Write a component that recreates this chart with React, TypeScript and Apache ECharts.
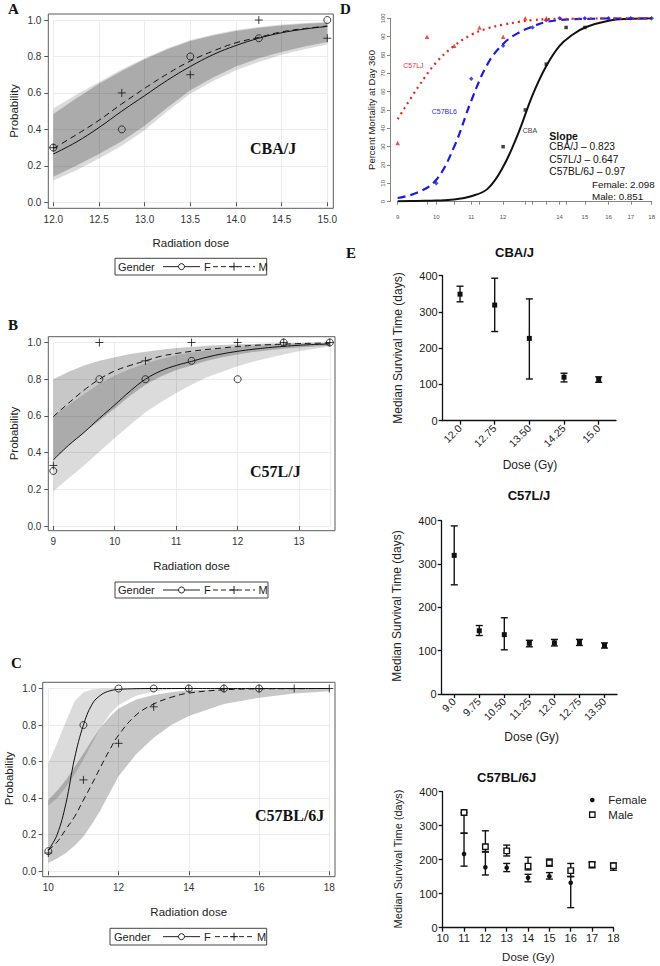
import React, { useEffect, useRef } from 'react';
import * as echarts from 'echarts';

const SANS = '"Liberation Sans", Arial, Helvetica, sans-serif';
const SERIF = '"Liberation Serif", "Times New Roman", serif';

// ---------- Panel A : CBA/J ----------
const doseA = [12, 12.75, 13.5, 14.25, 15];
const obsA_F = [0.3, 0.4, 0.8, 0.9, 1.0];
const obsA_M = [0.3, 0.6, 0.7, 1.0, 0.9];
const fitDoseA = [12, 12.25, 12.5, 12.75, 13, 13.25, 13.5, 13.75, 14, 14.25, 14.5, 14.75, 15];
const fitA_F = [0.265, 0.33, 0.41, 0.5, 0.585, 0.67, 0.745, 0.81, 0.86, 0.9, 0.93, 0.95, 0.965];
const fitA_M = [0.295, 0.37, 0.45, 0.54, 0.625, 0.705, 0.775, 0.83, 0.875, 0.905, 0.935, 0.953, 0.967];
const bandA_F_lo = [0.12, 0.175, 0.24, 0.31, 0.395, 0.5, 0.595, 0.665, 0.725, 0.77, 0.81, 0.84, 0.865];
const bandA_F_hi = [0.515, 0.59, 0.66, 0.73, 0.79, 0.845, 0.89, 0.92, 0.945, 0.962, 0.975, 0.984, 0.99];
const bandA_M_lo = [0.14, 0.2, 0.265, 0.335, 0.42, 0.52, 0.615, 0.685, 0.745, 0.79, 0.825, 0.855, 0.88];
const bandA_M_hi = [0.485, 0.57, 0.65, 0.72, 0.785, 0.84, 0.885, 0.915, 0.94, 0.957, 0.97, 0.979, 0.985];

// ---------- Panel B : C57L/J ----------
const doseB = [9, 9.75, 10.5, 11.25, 12, 12.75, 13.5];
const obsB_F = [0.3, 0.8, 0.8, 0.9, 0.8, 1.0, 1.0];
const obsB_M = [0.33, 1.0, 0.9, 1.0, 1.0, 1.0, 1.0];
const fitDoseB = [9, 9.25, 9.5, 9.75, 10, 10.25, 10.5, 10.75, 11, 11.25, 11.5, 11.75, 12, 12.25, 12.5, 12.75, 13, 13.25, 13.5];
const fitB_F = [0.36, 0.44, 0.51, 0.587, 0.66, 0.735, 0.8, 0.845, 0.875, 0.897, 0.92, 0.938, 0.952, 0.963, 0.972, 0.979, 0.985, 0.989, 0.992];
const fitB_M = [0.596, 0.67, 0.74, 0.8, 0.845, 0.875, 0.9, 0.925, 0.94, 0.952, 0.962, 0.97, 0.978, 0.984, 0.988, 0.991, 0.994, 0.996, 0.997];
const bandB_F_lo = [0.19, 0.26, 0.33, 0.405, 0.48, 0.55, 0.62, 0.675, 0.725, 0.77, 0.81, 0.84, 0.87, 0.895, 0.915, 0.935, 0.952, 0.966, 0.978];
const bandB_F_hi = [0.6, 0.66, 0.72, 0.775, 0.82, 0.855, 0.885, 0.91, 0.93, 0.945, 0.957, 0.967, 0.975, 0.981, 0.986, 0.99, 0.993, 0.995, 0.996];
const bandB_M_lo = [0.36, 0.44, 0.51, 0.575, 0.64, 0.71, 0.77, 0.815, 0.85, 0.875, 0.9, 0.92, 0.935, 0.948, 0.958, 0.966, 0.973, 0.978, 0.982];
const bandB_M_hi = [0.8, 0.84, 0.875, 0.9, 0.92, 0.937, 0.95, 0.96, 0.97, 0.976, 0.982, 0.986, 0.99, 0.992, 0.994, 0.996, 0.997, 0.998, 0.999];

// ---------- Panel C : C57BL/6J ----------
const doseC_F = [10, 11, 12, 13, 14, 15, 16];
const obsC_F = [0.11, 0.8, 1.0, 1.0, 1.0, 1.0, 1.0];
const doseC_M = [10, 11, 12, 13, 14, 15, 16, 17, 18];
const obsC_M = [0.1, 0.5, 0.7, 0.9, 1.0, 1.0, 1.0, 1.0, 1.0];
const fitDoseC = [10, 10.25, 10.5, 10.75, 11, 11.25, 11.5, 11.75, 12, 12.5, 13, 13.5, 14, 15, 16, 17, 18];
const fitC_F = [0.115, 0.2, 0.37, 0.62, 0.8, 0.915, 0.965, 0.987, 0.995, 0.999, 1, 1, 1, 1, 1, 1, 1];
const fitC_M = [0.115, 0.16, 0.23, 0.3, 0.39, 0.48, 0.575, 0.665, 0.745, 0.855, 0.915, 0.952, 0.975, 0.993, 0.998, 0.999, 1];
const bandC_F_lo = [0.36, 0.4, 0.46, 0.53, 0.61, 0.7, 0.79, 0.86, 0.91, 0.96, 0.985, 0.995, 1, 1, 1, 1, 1];
const bandC_F_hi = [0.59, 0.7, 0.82, 0.93, 0.98, 0.995, 1, 1, 1, 1, 1, 1, 1, 1, 1, 1, 1];
const bandC_M_lo = [0.045, 0.07, 0.1, 0.14, 0.19, 0.26, 0.34, 0.43, 0.52, 0.64, 0.73, 0.8, 0.85, 0.915, 0.95, 0.972, 0.985];
const bandC_M_hi = [0.39, 0.44, 0.5, 0.57, 0.645, 0.72, 0.79, 0.845, 0.89, 0.94, 0.965, 0.98, 0.99, 0.997, 0.999, 1, 1];

// ---------- Panel D : mortality at day 360 ----------
const tickDosesD = [9, 9.75, 10, 10.5, 11, 11.25, 12, 12.75, 13, 13.5, 14, 14.25, 15, 16, 17, 18];
const labelDosesD = [9, 10, 11, 12, 14, 15, 16, 17, 18];
const curveDoseD = [9, 9.5, 10, 10.5, 11, 11.5, 12, 12.5, 13, 13.5, 14, 14.5, 15, 16, 17, 18];
const fitD_C57LJ = [45, 62, 76, 85, 91, 94.5, 96.5, 98, 99, 99.5, 99.7, 99.8, 99.9, 100, 100, 100];
const fitD_C57BL6 = [2, 5, 12, 30, 55, 75, 86, 92, 95.5, 98, 99, 99.5, 99.7, 100, 100, 100];
const fitD_CBA = [0.2, 0.4, 0.6, 1.2, 3, 7, 19, 37, 58, 74, 85, 91, 95, 98.7, 99.7, 100];
const ptDoseD_C57LJ = [9, 9.75, 10.5, 11.25, 12, 12.75, 13.5];
const ptD_C57LJ = [32, 90, 85, 95, 90, 100, 100];
const ptDoseD_C57BL6 = [10, 11, 12, 13, 13.5, 14, 15, 16, 17, 18];
const ptD_C57BL6 = [10, 67, 85, 95, 99, 100, 100, 100, 100, 100];
const ptDoseD_CBA = [12, 12.75, 13.5, 14.25, 15];
const ptD_CBA = [30, 50, 75, 95, 95];

// ---------- Panel E : median survival ----------
const catsE1 = ['12.0', '12.75', '13.50', '14.25', '15.0'];
const medE1 = [349, 319, 227, 120, 114];
const loE1 = [328, 246, 115, 107, 106];
const hiE1 = [371, 393, 336, 131, 121];

const catsE2 = ['9.0', '9.75', '10.50', '11.25', '12.0', '12.75', '13.50'];
const medE2 = [320, 146, 137, 117, 118, 119, 112];
const loE2 = [252, 135, 102, 109, 111, 112, 106];
const hiE2 = [388, 158, 176, 124, 126, 126, 118];

const doseE3_F = [11, 12, 13, 14, 15, 16];
const medE3_F = [217, 178, 176, 147, 151, 132];
const loE3_F = [181, 155, 165, 135, 143, 59];
const hiE3_F = [278, 223, 189, 157, 162, 150];
const doseE3_M = [11, 12, 13, 14, 15, 16, 17, 18];
const medE3_M = [339, 238, 226, 181, 191, 168, 186, 182];
const loE3_M = [278, 223, 211, 170, 181, 151, 176, 169];
const hiE3_M = [339, 285, 243, 207, 202, 189, 193, 190];

const BAND_F = 'rgba(0,0,0,0.14)';
const BAND_M = 'rgba(0,0,0,0.22)';
const PLUS = 'path://M5 0 L5 10 M0 5 L10 5';

function bandSeries(gi: number, dose: number[], lo: number[], hi: number[], fill: string) {
  return {
    type: 'custom',
    xAxisIndex: gi,
    yAxisIndex: gi,
    silent: true,
    z: 1,
    data: dose.map((d, i) => [d, lo[i], hi[i]]),
    renderItem: (params: any, api: any) => {
      if (params.dataIndex !== 0) return null;
      const pts: number[][] = [];
      for (let i = 0; i < dose.length; i++) pts.push(api.coord([dose[i], hi[i]]));
      for (let i = dose.length - 1; i >= 0; i--) pts.push(api.coord([dose[i], lo[i]]));
      return { type: 'polygon', shape: { points: pts }, style: { fill, stroke: 'none' } };
    },
  };
}

function lineSeries(gi: number, dose: number[], vals: number[], color: string, width: number, dash: any, smooth: number, tx?: (d: number) => number) {
  const f = tx || ((d: number) => d);
  return {
    type: 'line',
    xAxisIndex: gi,
    yAxisIndex: gi,
    data: dose.map((d, i) => [f(d), vals[i]]),
    showSymbol: false,
    smooth,
    silent: true,
    z: 3,
    lineStyle: { color, width, type: dash },
  };
}

function scatterSeries(gi: number, dose: number[], vals: number[], symbol: string, size: number, itemStyle: any, tx?: (d: number) => number) {
  const f = tx || ((d: number) => d);
  return {
    type: 'scatter',
    xAxisIndex: gi,
    yAxisIndex: gi,
    data: dose.map((d, i) => [f(d), vals[i]]),
    symbol,
    symbolSize: size,
    silent: true,
    z: 4,
    itemStyle,
  };
}

function errorSeries(gi: number, xs: number[], med: number[], lo: number[], hi: number[], marker: string, size: number, cap: number) {
  return {
    type: 'custom',
    xAxisIndex: gi,
    yAxisIndex: gi,
    silent: true,
    z: 4,
    data: xs.map((x, i) => [x, med[i], lo[i], hi[i]]),
    renderItem: (params: any, api: any) => {
      const x = api.value(0);
      const c = api.coord([x, api.value(1)]);
      const a = api.coord([x, api.value(2)]);
      const b = api.coord([x, api.value(3)]);
      const st = { stroke: '#111', lineWidth: 1.4 };
      const children: any[] = [
        { type: 'line', shape: { x1: a[0], y1: a[1], x2: b[0], y2: b[1] }, style: st },
        { type: 'line', shape: { x1: a[0] - cap, y1: a[1], x2: a[0] + cap, y2: a[1] }, style: st },
        { type: 'line', shape: { x1: b[0] - cap, y1: b[1], x2: b[0] + cap, y2: b[1] }, style: st },
      ];
      if (marker === 'square') {
        children.push({ type: 'rect', shape: { x: c[0] - size / 2, y: c[1] - size / 2, width: size, height: size }, style: { fill: '#111' } });
      } else if (marker === 'openSquare') {
        children.push({ type: 'rect', shape: { x: c[0] - size / 2, y: c[1] - size / 2, width: size, height: size }, style: { fill: '#fff', stroke: '#111', lineWidth: 1.4 } });
      } else {
        children.push({ type: 'circle', shape: { cx: c[0], cy: c[1], r: size / 2 }, style: { fill: '#111' } });
      }
      return { type: 'group', children };
    },
  };
}

function probX(gi: number, min: number, max: number, interval: number, offset: number, fmt: (v: number) => string, hideMax = false) {
  return {
    type: 'value', gridIndex: gi, min, max, interval, offset,
    axisLine: { show: false },
    axisTick: { show: true, length: 4, lineStyle: { color: '#555' } },
    axisLabel: { fontSize: 10, color: '#333', margin: 6, formatter: fmt, fontFamily: SANS, showMaxLabel: !hideMax },
    splitLine: { show: true, lineStyle: { color: '#ebebeb', width: 1 } },
  };
}

function probY(gi: number, offset: number, margin: number) {
  return {
    type: 'value', gridIndex: gi, min: 0, max: 1, interval: 0.2, offset,
    axisLine: { show: false },
    axisTick: { show: true, length: 4, lineStyle: { color: '#555' } },
    axisLabel: { fontSize: 10, color: '#333', margin, formatter: (v: number) => v.toFixed(1), fontFamily: SANS },
    splitLine: { show: true, lineStyle: { color: '#ebebeb', width: 1 } },
  };
}

const eAxisLine = { show: true, lineStyle: { color: '#111', width: 1.3 } };
const eTick = { show: true, length: 4, lineStyle: { color: '#111', width: 1.3 } };

function eY(gi: number) {
  return {
    type: 'value', gridIndex: gi, min: 0, max: 400, interval: 100,
    axisLine: eAxisLine, axisTick: eTick,
    axisLabel: { fontSize: 11, color: '#1a1a1a', margin: 5, fontFamily: SANS },
    splitLine: { show: false },
  };
}

function eCatX(gi: number, cats: string[]) {
  return {
    type: 'category', gridIndex: gi, data: cats, boundaryGap: true,
    axisLine: eAxisLine,
    axisTick: { ...eTick, alignWithLabel: true },
    axisLabel: { fontSize: 10.5, color: '#1a1a1a', rotate: 45, margin: 6, fontFamily: SANS, interval: 0 },
    splitLine: { show: false },
  };
}

function txt(text: string, x: number, y: number, size: number, opts: any = {}) {
  return {
    type: 'text',
    x, y,
    rotation: opts.rotation || 0,
    z: 100,
    silent: true,
    style: {
      text,
      fill: opts.fill || '#222',
      fontSize: size,
      fontFamily: opts.family || SANS,
      fontWeight: opts.weight || 'normal',
      textAlign: opts.align || 'left',
      align: opts.align || 'left',
      textVerticalAlign: 'middle',
      verticalAlign: 'middle',
    },
  };
}

function frame(x: number, y: number, w: number, h: number) {
  return { type: 'rect', z: 100, silent: true, shape: { x, y, width: w, height: h }, style: { fill: 'none', stroke: '#5a5a5a', lineWidth: 1 } };
}

function genderLegend(bx: number, by: number, bw: number, bh: number, xs: any) {
  const cy = by + bh / 2;
  const st = { stroke: '#222', lineWidth: 1 };
  return [
    { type: 'rect', z: 100, silent: true, shape: { x: bx, y: by, width: bw, height: bh }, style: { fill: '#fff', stroke: '#444', lineWidth: 1 } },
    txt('Gender', xs.gender, cy, 11),
    { type: 'line', z: 101, silent: true, shape: { x1: xs.l1a, y1: cy, x2: xs.l1b, y2: cy }, style: st },
    { type: 'circle', z: 102, silent: true, shape: { cx: (xs.l1a + xs.l1b) / 2, cy, r: 3 }, style: { fill: '#fff', stroke: '#222', lineWidth: 1 } },
    txt('F', xs.f, cy, 11),
    { type: 'line', z: 101, silent: true, shape: { x1: xs.l2a, y1: cy, x2: xs.l2b, y2: cy }, style: { ...st, lineDash: [5, 3] } },
    { type: 'line', z: 102, silent: true, shape: { x1: (xs.l2a + xs.l2b) / 2 - 4, y1: cy, x2: (xs.l2a + xs.l2b) / 2 + 4, y2: cy }, style: st },
    { type: 'line', z: 102, silent: true, shape: { x1: (xs.l2a + xs.l2b) / 2, y1: cy - 4, x2: (xs.l2a + xs.l2b) / 2, y2: cy + 4 }, style: st },
    txt('M', xs.m, cy, 11),
  ];
}

const openCircle = { color: 'rgba(0,0,0,0)', borderColor: '#111', borderWidth: 1 };
const plusStyle = { color: 'none', borderColor: '#111', borderWidth: 1 };

export default function App() {
  const ref = useRef<HTMLDivElement>(null);
  useEffect(() => {
    if (!ref.current) return;
    const chart = echarts.init(ref.current, undefined, { renderer: 'svg' });
    const ln = (d: number) => Math.log(d);

    const grids = [
      { left: 53.3, top: 20, width: 274, height: 182.3 },
      { left: 53.3, top: 342.5, width: 276.5, height: 183.5 },
      { left: 48.3, top: 688.5, width: 281, height: 182.8 },
      { left: 397.7, top: 18.3, width: 254, height: 183.4 },
      { left: 442.7, top: 275.7, width: 173.3, height: 145 },
      { left: 441.7, top: 520.7, width: 175.3, height: 173.3 },
      { left: 442.7, top: 791.7, width: 170.7, height: 136 },
    ].map((g) => ({ ...g, containLabel: false, outerBoundsMode: 'none' }));

    const xAxes: any[] = [
      probX(0, 12, 15, 0.5, 6, (v) => v.toFixed(1)),
      probX(1, 9, 13.5, 1, 4.7, (v) => String(v), true),
      probX(2, 10, 18, 2, 5.4, (v) => String(v)),
      {
        type: 'value', gridIndex: 3, min: ln(9), max: ln(18), offset: 7.6,
        axisLine: { show: true, lineStyle: { color: '#666', width: 0.8 } },
        axisTick: { show: true, length: 3, lineStyle: { color: '#666', width: 0.8 }, customValues: tickDosesD.map(ln) },
        axisLabel: { fontSize: 6, color: '#555', margin: 5, fontFamily: SANS, customValues: labelDosesD.map(ln), formatter: (v: number) => String(Math.round(Math.exp(v))), showMinLabel: true, showMaxLabel: true },
        splitLine: { show: false },
      },
      eCatX(4, catsE1),
      eCatX(5, catsE2),
      {
        type: 'value', gridIndex: 6, min: 10, max: 18, interval: 1,
        axisLine: eAxisLine, axisTick: eTick,
        axisLabel: { fontSize: 11, color: '#1a1a1a', margin: 5, fontFamily: SANS },
        splitLine: { show: false },
      },
    ];
    const yAxes: any[] = [
      probY(0, 5, 7),
      probY(1, 5, 7),
      probY(2, 5.6, 6.5),
      {
        type: 'value', gridIndex: 3, min: 0, max: 100, interval: 10, offset: 7.7,
        axisLine: { show: true, lineStyle: { color: '#666', width: 0.8 } },
        axisTick: { show: true, length: 3, lineStyle: { color: '#666', width: 0.8 } },
        axisLabel: { fontSize: 6, color: '#555', margin: 4, rotate: 90, fontFamily: SANS },
        splitLine: { show: false },
      },
      eY(4),
      eY(5),
      eY(6),
    ];

    const series: any[] = [
      // A
      bandSeries(0, fitDoseA, bandA_F_lo, bandA_F_hi, BAND_F),
      bandSeries(0, fitDoseA, bandA_M_lo, bandA_M_hi, BAND_M),
      lineSeries(0, fitDoseA, fitA_F, '#111', 1, 'solid', 0.4),
      lineSeries(0, fitDoseA, fitA_M, '#111', 1, [6, 4], 0.4),
      scatterSeries(0, doseA, obsA_F, 'circle', 7, openCircle),
      scatterSeries(0, doseA, obsA_M, PLUS, 8, plusStyle),
      // B
      bandSeries(1, fitDoseB, bandB_F_lo, bandB_F_hi, BAND_F),
      bandSeries(1, fitDoseB, bandB_M_lo, bandB_M_hi, BAND_M),
      lineSeries(1, fitDoseB, fitB_F, '#111', 1, 'solid', 0.4),
      lineSeries(1, fitDoseB, fitB_M, '#111', 1, [6, 4], 0.4),
      scatterSeries(1, doseB, obsB_F, 'circle', 7, openCircle),
      scatterSeries(1, doseB, obsB_M, PLUS, 8, plusStyle),
      // C
      bandSeries(2, fitDoseC, bandC_F_lo, bandC_F_hi, BAND_F),
      bandSeries(2, fitDoseC, bandC_M_lo, bandC_M_hi, BAND_M),
      lineSeries(2, fitDoseC, fitC_F, '#111', 1, 'solid', 0.4),
      lineSeries(2, fitDoseC, fitC_M, '#111', 1, [6, 4], 0.4),
      scatterSeries(2, doseC_F, obsC_F, 'circle', 7, openCircle),
      scatterSeries(2, doseC_M, obsC_M, PLUS, 8, plusStyle),
      // D
      lineSeries(3, curveDoseD, fitD_CBA, '#111', 2, 'solid', 0.4, ln),
      lineSeries(3, curveDoseD, fitD_C57BL6, '#1c1ce0', 2.2, [8, 5], 0.4, ln),
      lineSeries(3, curveDoseD, fitD_C57LJ, '#ee2020', 2.2, [2, 4], 0.4, ln),
      scatterSeries(3, ptDoseD_CBA, ptD_CBA, 'rect', 3.5, { color: '#111' }, ln),
      scatterSeries(3, ptDoseD_C57BL6, ptD_C57BL6, 'diamond', 4.5, { color: '#1c1ce0' }, ln),
      scatterSeries(3, ptDoseD_C57LJ, ptD_C57LJ, 'triangle', 4.5, { color: '#ee2020' }, ln),
      // E
      errorSeries(4, catsE1.map((_, i) => i), medE1, loE1, hiE1, 'square', 5, 3.5),
      errorSeries(5, catsE2.map((_, i) => i), medE2, loE2, hiE2, 'square', 5, 3.5),
      errorSeries(6, doseE3_M, medE3_M, loE3_M, hiE3_M, 'openSquare', 5.5, 3.5),
      errorSeries(6, doseE3_F, medE3_F, loE3_F, hiE3_F, 'circle', 4.6, 3.5),
    ];

    const letter = (t: string, x: number, y: number) => txt(t, x, y, 15, { family: SERIF, weight: 'bold', fill: '#111' });
    const ytitle = (t: string, x: number, y: number, size: number) => txt(t, x, y, size, { rotation: Math.PI / 2, align: 'center' });

    const graphic: any[] = [
      // frames
      frame(48.3, 14, 285, 194.3),
      frame(48.3, 336.7, 286.7, 194),
      frame(42.7, 682.3, 292.3, 194.4),
      // panel letters
      letter('A', 8, 9),
      letter('B', 8, 324.5),
      letter('C', 11, 663),
      letter('D', 340, 8.5),
      letter('E', 346, 253),
      // A-C axis titles
      ytitle('Probability', 14, 111, 11.5),
      txt('Radiation dose', 190.8, 243.3, 11.5, { align: 'center' }),
      ytitle('Probability', 13.5, 433.5, 11.5),
      txt('Radiation dose', 191.5, 566, 11.5, { align: 'center' }),
      ytitle('Probability', 8.5, 778.5, 11.5),
      txt('Radiation dose', 188.7, 911.7, 11.5, { align: 'center' }),
      // strain labels
      txt('CBA/J', 250, 148, 16, { family: SERIF, weight: 'bold', fill: '#111' }),
      txt('C57L/J', 250, 471.7, 16, { family: SERIF, weight: 'bold', fill: '#111' }),
      txt('C57BL/6J', 255, 815, 16, { family: SERIF, weight: 'bold', fill: '#111' }),
      // legends
      ...genderLegend(115, 258.3, 151.7, 16.7, { gender: 118, l1a: 163, l1b: 200, f: 204, l2a: 213, l2b: 255, m: 258.5 }),
      ...genderLegend(115, 582, 153, 16, { gender: 118, l1a: 163, l1b: 200, f: 204, l2a: 213, l2b: 255, m: 258.5 }),
      ...genderLegend(110, 928.3, 156.7, 16.7, { gender: 114, l1a: 163, l1b: 200, f: 204, l2a: 215, l2b: 253, m: 257 }),
      // D texts
      ytitle('Percent Mortality at Day 360', 371.7, 110, 9.5),
      txt('C57LJ', 403.3, 65, 7, { fill: '#e83030' }),
      txt('C57BL6', 431.7, 111, 7, { fill: '#2a2ae0' }),
      txt('CBA', 522.7, 130.7, 7, { fill: '#444' }),
      txt('Slope', 549.3, 136, 10.5, { weight: 'bold', fill: '#111' }),
      txt('CBA/J \u2013 0.823', 549.3, 146.8, 10.2, { fill: '#111' }),
      txt('C57L/J \u2013 0.647', 549.3, 159.3, 10.2, { fill: '#111' }),
      txt('C57BL/6J \u2013 0.97', 549.3, 171.7, 10.2, { fill: '#111' }),
      txt('Female: 2.098', 592, 184.3, 9.8, { fill: '#111' }),
      txt('Male: 0.851', 592, 196.7, 9.8, { fill: '#111' }),
      // E titles
      txt('CBA/J', 514.5, 252, 13, { weight: 'bold', align: 'center', fill: '#111' }),
      ytitle('Median Survival Time (days)', 398, 348, 12),
      txt('Dose (Gy)', 530, 465, 12, { align: 'center' }),
      txt('C57L/J', 529, 495.5, 13, { weight: 'bold', align: 'center', fill: '#111' }),
      ytitle('Median Survival Time (days)', 396.7, 606, 12),
      txt('Dose (Gy)', 531.7, 737, 12, { align: 'center' }),
      txt('C57BL/6J', 506.7, 777.3, 13, { weight: 'bold', align: 'center', fill: '#111' }),
      ytitle('Median Survival Time (days)', 398.3, 859, 11),
      txt('Dose (Gy)', 528.3, 956.7, 11.5, { align: 'center' }),
      // E3 legend
      { type: 'circle', z: 100, silent: true, shape: { cx: 592.3, cy: 800, r: 2.3 }, style: { fill: '#111' } },
      txt('Female', 608.3, 800, 11.5),
      { type: 'rect', z: 100, silent: true, shape: { x: 589.6, y: 812, width: 5.4, height: 5.4 }, style: { fill: '#fff', stroke: '#111', lineWidth: 1.3 } },
      txt('Male', 608.3, 814.7, 11.5),
    ];

    chart.setOption({
      animation: false,
      backgroundColor: '#fff',
      textStyle: { fontFamily: SANS },
      grid: grids,
      xAxis: xAxes,
      yAxis: yAxes,
      series,
      graphic,
    });
    return () => chart.dispose();
  }, []);
  return <div ref={ref} style={{ position: 'fixed', left: 0, top: 0, width: 660, height: 966, background: '#fff' }} />;
}
